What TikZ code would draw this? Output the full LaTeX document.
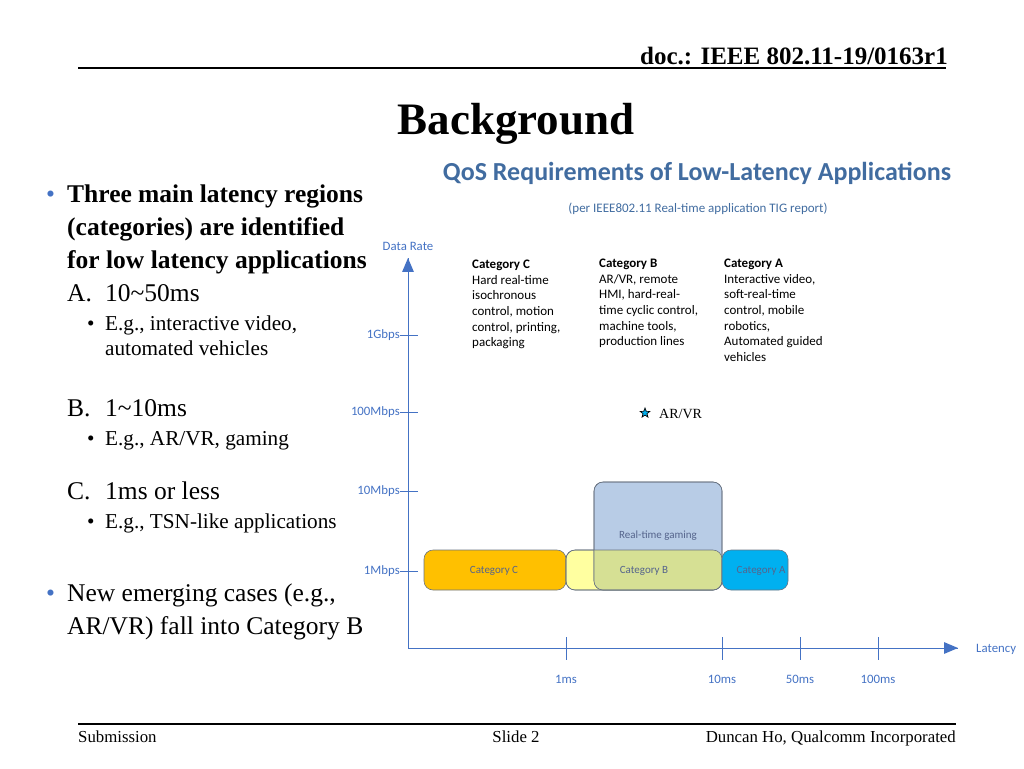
\documentclass[tikz,border=0pt]{standalone}
\usepackage{fontspec}
\setmainfont{Liberation Serif}
\newfontfamily\calibri{Carlito}
\usetikzlibrary{arrows}
\usetikzlibrary{decorations.markings}
\usetikzlibrary{shapes.geometric}
\definecolor{axisblue}{RGB}{68,114,196}
\definecolor{headblue}{RGB}{65,108,160}
\definecolor{catC}{RGB}{255,192,0}
\definecolor{catByellow}{RGB}{255,255,160}
\definecolor{gaming}{RGB}{184,204,230}
\definecolor{catBgreen}{RGB}{214,224,148}
\definecolor{catA}{RGB}{0,176,240}
\definecolor{boxline}{RGB}{105,115,130}
\definecolor{boxtext}{RGB}{85,100,140}
\tikzset{axisarrow/.style = {axisblue, line width=1pt,
                             decoration={markings,
                                         mark=at position 1 with {\arrow[scale=1.6]{triangle 45}}},
                             postaction={decorate}}}
\tikzset{tick/.style = {axisblue, line width=0.8pt}}
\tikzset{ticklabel/.style = {axisblue, font=\calibri\fontsize{12.8}{14}\selectfont, inner sep=1}}
\tikzset{catbox/.style = {draw=boxline, line width=0.6pt, rounded corners=9}}
\tikzset{boxlabel/.style = {boxtext, font=\calibri\fontsize{11}{13}\selectfont}}
\tikzset{catcol/.style = {anchor=north west, align=left, inner sep=0,
                          font=\calibri\fontsize{13}{15.6}\selectfont}}
\tikzset{bigtext/.style = {anchor=base west, inner sep=0, font=\fontsize{25.5}{28}\selectfont}}
\tikzset{boldtext/.style = {anchor=base west, inner sep=0, font=\bfseries\fontsize{25.5}{28}\selectfont}}
\tikzset{subtext/.style = {anchor=base west, inner sep=0, font=\fontsize{21.2}{24}\selectfont}}
\tikzset{foot/.style = {inner sep=0, font=\fontsize{16.8}{19}\selectfont}}

\begin{document}
\begin{tikzpicture}[x=1pt, y=-1pt]
  \useasboundingbox (0,0) rectangle (1024,768);

  % header and footer
  \node [anchor=base east, inner sep=0, font=\bfseries\fontsize{25}{28}\selectfont] (docnr) at (948,64) {doc.: IEEE 802.11-19/0163r1};
  \draw [line width=1.6pt] (78,68) -- (946,68);
  \node [anchor=base, inner sep=0, font=\bfseries\fontsize{45}{50}\selectfont] (title) at (516,134) {Background};
  \draw [line width=1.6pt] (78,724) -- (956,724);
  \node [foot, anchor=base west] (subm) at (78,742) {Submission};
  \node [foot, anchor=base] (slide) at (516,742) {Slide 2};
  \node [foot, anchor=base east] (author) at (956,742) {Duncan Ho, Qualcomm Incorporated};

  % bullets on the left
  \node [bigtext, axisblue] (b1) at (46,202) {\textbullet};
  \node [boldtext] (l1) at (67,202) {Three main latency regions};
  \node [boldtext] (l2) at (67,235) {(categories) are identified};
  \node [boldtext] (l3) at (67,268) {for low latency applications};
  \node [bigtext] (la) at (67,301) {A.};
  \node [bigtext] (lat) at (105,301) {10\textasciitilde50ms};
  \node [subtext] (sa) at (87,330) {\textbullet};
  \node [subtext] (sat1) at (105,330) {E.g., interactive video,};
  \node [subtext] (sat2) at (105,355) {automated vehicles};
  \node [bigtext] (lb) at (67,416) {B.};
  \node [bigtext] (lbt) at (105,416) {1\textasciitilde10ms};
  \node [subtext] (sb) at (87,445) {\textbullet};
  \node [subtext] (sbt) at (105,445) {E.g., AR/VR, gaming};
  \node [bigtext] (lc) at (67,499) {C.};
  \node [bigtext] (lct) at (105,499) {1ms or less};
  \node [subtext] (sc) at (87,528) {\textbullet};
  \node [subtext] (sct) at (105,528) {E.g., TSN-like applications};
  \node [bigtext, axisblue] (b2) at (46,601) {\textbullet};
  \node [bigtext] (n1) at (67,601) {New emerging cases (e.g.,};
  \node [bigtext] (n2) at (67,634) {AR/VR) fall into Category B};

  % chart headings
  \node [anchor=base, inner sep=0, headblue, font=\calibri\bfseries\fontsize{26}{30}\selectfont] (qos) at (697,180) {QoS Requirements of Low-Latency Applications};
  \node [anchor=base, inner sep=0, headblue, font=\calibri\fontsize{13}{15}\selectfont] (tig) at (698,212) {(per IEEE802.11 Real-time application TIG report)};

  % axes
  \coordinate (origin) at (408,648);
  \coordinate (ytop) at (408,258);
  \coordinate (xend) at (958,648);
  \draw [axisarrow] (origin) -- (ytop);
  \draw [axisarrow] (origin) -- (xend);
  \node [ticklabel, anchor=base] (drate) at (408,250) {Data Rate};
  \node [ticklabel, anchor=west] (lat) at (975,649) {Latency};

  \foreach \y/\lab in {335/1Gbps, 412/100Mbps, 491/10Mbps, 571/1Mbps} {
    \draw [tick] (400,\y) -- (418,\y);
    \node [ticklabel, anchor=east] (y\lab) at (401,\y) {\lab};
  }
  \foreach \x/\lab in {566/1ms, 722/10ms, 800/50ms, 878/100ms} {
    \draw [tick] (\x,637) -- (\x,660);
    \node [ticklabel] (x\lab) at (\x,679) {\lab};
  }

  % category boxes
  \filldraw [catbox, fill=catC] (424,550) rectangle (566,590);
  \filldraw [catbox, fill=catByellow] (566,550) rectangle (722,590);
  \filldraw [catbox, fill=gaming] (594,482) rectangle (722,590);
  \begin{scope}
    \clip [rounded corners=9] (566,550) rectangle (722,590);
    \fill [catBgreen, rounded corners=9] (594,482) rectangle (722,590);
  \end{scope}
  \draw [catbox] (566,550) rectangle (722,590);
  \draw [catbox] (594,482) rectangle (722,590);
  \filldraw [catbox, fill=catA] (722,550) rectangle (788,590);

  \node [boxlabel] (labC) at (494,571) {Category C};
  \node [boxlabel] (labB) at (644,571) {Category B};
  \node [boxlabel] (labA) at (761,571) {Category A};
  \node [boxlabel] (labG) at (658,536) {Real-time gaming};

  % AR/VR point
  \node [star, star points=5, star point ratio=2.4, draw=black, fill=catA, line width=0.7pt,
         minimum size=10, inner sep=0] (arvr) at (645,413) {};
  \node [anchor=west, font=\fontsize{14}{16}\selectfont, inner sep=0] (arvrlab) at (659,414) {AR/VR};

  % category descriptions
  \node [catcol] (descC) at (472,260) {\textbf{Category C}\\Hard real-time\\isochronous\\control, motion\\control, printing,\\packaging};
  \node [catcol] (descB) at (599,259) {\textbf{Category B}\\AR/VR, remote\\HMI, hard-real-\\time cyclic control,\\machine tools,\\production lines};
  \node [catcol] (descA) at (724,259) {\textbf{Category A}\\Interactive video,\\soft-real-time\\control, mobile\\robotics,\\Automated guided\\vehicles};
\end{tikzpicture}
\end{document}
